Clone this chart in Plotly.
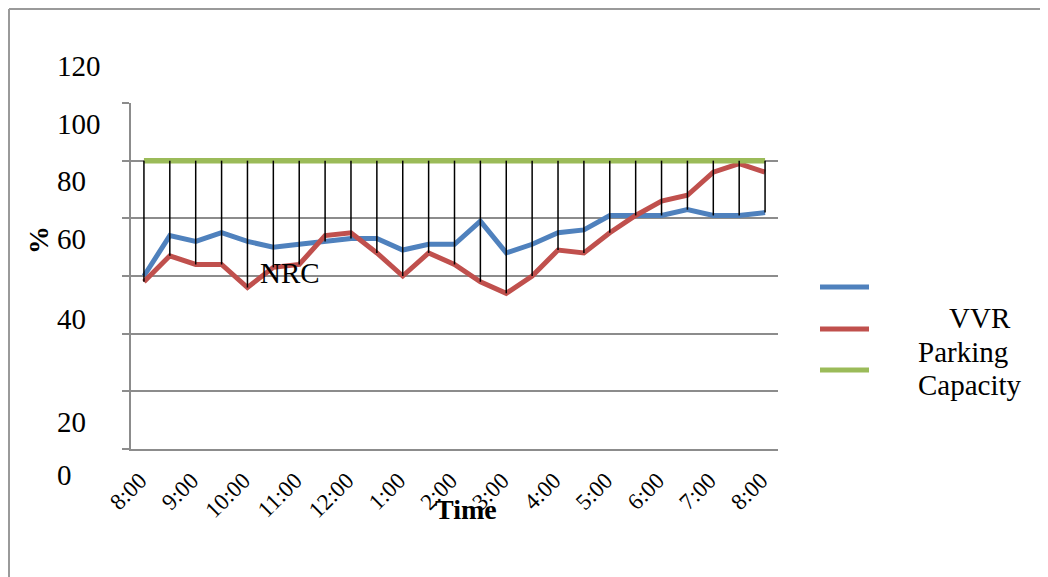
import plotly.graph_objects as go

# ---- data ----
times = ["8:00", "8:30", "9:00", "9:30", "10:00", "10:30", "11:00", "11:30", "12:00",
         "12:30", "1:00", "1:30", "2:00", "2:30", "3:00", "3:30", "4:00", "4:30",
         "5:00", "5:30", "6:00", "6:30", "7:00", "7:30", "8:00"]
nrc = [60, 74, 72, 75, 72, 70, 71, 72, 73, 73, 69, 71, 71, 79, 68, 71, 75, 76,
       81, 81, 81, 83, 81, 81, 82]
vvr = [58, 67, 64, 64, 56, 63, 64, 74, 75, 68, 60, 68, 64, 58, 54, 60, 69, 68,
       75, 81, 86, 88, 96, 99, 96]
capacity = [100, 100, 100, 100, 100, 100, 100, 100, 100, 100, 100, 100, 100, 100,
            100, 100, 100, 100, 100, 100, 100, 100, 100, 100, 100]
y_tick_labels = ["120", "100", "80", "60", "40", "20", "0"]
legend_texts = ["VVR", "Parking", "Capacity"]

OFF = 8  # page body margin
W, H = 1048 - OFF, 577 - OFF
PL, PR, PT, PB = 131 - OFF, 778 - OFF, 103 - OFF, 449 - OFF  # plot area (fig px)
pw, ph = PR - PL, PB - PT


def px(x):  # page x -> paper
    return (x - OFF - PL) / pw


def py(y):  # page y -> paper
    return (PB - (y - OFF)) / ph


SERIF = "Liberation Serif, Times New Roman, serif"
xs = list(range(len(times)))

fig = go.Figure()
fig.add_trace(go.Scatter(x=xs, y=nrc, mode="lines", name="NRC",
                         line=dict(color="#4F81BD", width=5), showlegend=False))
fig.add_trace(go.Scatter(x=xs, y=vvr, mode="lines", name="VVR",
                         line=dict(color="#C0504D", width=5), showlegend=False))
fig.add_trace(go.Scatter(x=xs, y=capacity, mode="lines", name="Parking Capacity",
                         line=dict(color="#9BBB59", width=5.5), showlegend=False))

# high-low lines
hx, hy = [], []
for i in xs:
    hx += [i, i, None]
    hy += [max(nrc[i], vvr[i], capacity[i]), min(nrc[i], vvr[i], capacity[i]), None]
fig.add_trace(go.Scatter(x=hx, y=hy, mode="lines", line=dict(color="black", width=1.5),
                         showlegend=False, hoverinfo="skip"))

shapes = []
# outer border (top and left)
shapes.append(dict(type="line", xref="paper", yref="paper", x0=px(9), x1=px(1048),
                   y0=py(9), y1=py(9), line=dict(color="#9a9a9a", width=2)))
shapes.append(dict(type="line", xref="paper", yref="paper", x0=px(9), x1=px(9),
                   y0=py(9), y1=py(577), line=dict(color="#9a9a9a", width=2)))
# manual legend lines
leg_cols = ["#4F81BD", "#C0504D", "#9BBB59"]
leg_y = [287, 329, 370]
for c, yy in zip(leg_cols, leg_y):
    shapes.append(dict(type="line", xref="paper", yref="paper", x0=px(820), x1=px(869),
                       y0=py(yy), y1=py(yy), line=dict(color=c, width=5)))

ann = []
# y tick labels as placed in the reference
ytl_y = [66, 124, 181, 239, 319, 422, 475]
for t, yy in zip(y_tick_labels, ytl_y):
    ann.append(dict(text=t, xref="paper", yref="paper", x=px(55), y=py(yy),
                    xanchor="left", yanchor="middle", showarrow=False,
                    font=dict(family=SERIF, size=29, color="black")))
# legend texts
leg_pos = [(947, 318), (916, 352), (916, 385)]
for t, (xx, yy) in zip(legend_texts, leg_pos):
    ann.append(dict(text=t, xref="paper", yref="paper", x=px(xx), y=py(yy),
                    xanchor="left", yanchor="middle", showarrow=False,
                    font=dict(family=SERIF, size=29, color="black")))
# NRC label
ann.append(dict(text="NRC", xref="paper", yref="paper", x=px(258), y=py(273),
                xanchor="left", yanchor="middle", showarrow=False,
                font=dict(family=SERIF, size=29, color="black")))
# axis titles
ann.append(dict(text="<b>Time</b>", xref="paper", yref="paper", x=px(466), y=py(509),
                xanchor="center", yanchor="middle", showarrow=False,
                font=dict(family=SERIF, size=28, color="black")))
ann.append(dict(text="<b>%</b>", xref="paper", yref="paper", x=px(38), y=py(240),
                xanchor="center", yanchor="middle", showarrow=False, textangle=-90,
                font=dict(family=SERIF, size=28, color="black")))

fig.update_layout(
    width=W, height=H,
    margin=dict(l=PL, r=W - PR, t=PT, b=H - PB),
    paper_bgcolor="white", plot_bgcolor="white",
    shapes=shapes, annotations=ann,
    xaxis=dict(range=[-0.5, len(times) - 0.5], tickmode="array",
               tickvals=xs[::2], ticktext=times[::2], tickangle=-45,
               tickfont=dict(family=SERIF, size=23, color="black"),
               showgrid=False, zeroline=False, showline=True,
               linecolor="#8c8c8c", linewidth=2, ticks="",
               ticklabelstandoff=7, ticklabelshift=-4),
    yaxis=dict(range=[0, 120], dtick=20, showticklabels=False,
               showgrid=True, gridcolor="#8c8c8c", gridwidth=1.5, zeroline=False,
               showline=True, linecolor="#8c8c8c", linewidth=2,
               ticks="outside", ticklen=7, tickcolor="#8c8c8c", tickwidth=1.5),
)

fig.write_html("out.html")
